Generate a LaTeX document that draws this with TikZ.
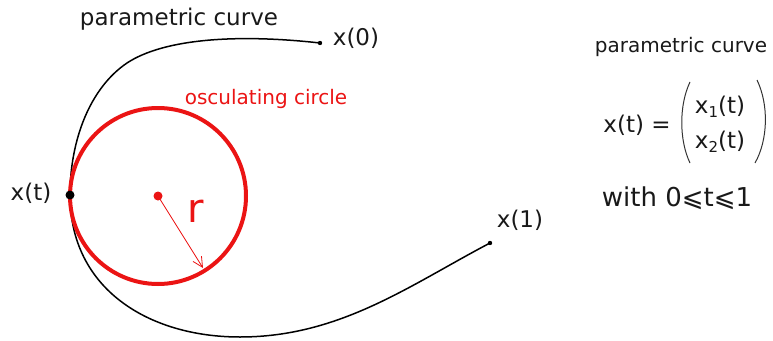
\documentclass[tikz,border=0pt]{standalone}
\usepackage{fontspec}
\setmainfont{DejaVu Sans}
\usetikzlibrary{arrows.meta}
\definecolor{oscred}{RGB}{235,20,20}
\newcommand{\mysub}[1]{\raisebox{-0.3ex}{\fontsize{15}{18}\selectfont #1}}
\begin{document}
\begin{tikzpicture}[x=1pt,y=-1pt,
  lbl/.style={inner sep=0pt, text=black!90, font=\fontsize{23}{28}\selectfont},
  smalllbl/.style={inner sep=0pt, text=black!90, font=\fontsize{20}{24}\selectfont},
  redlbl/.style={inner sep=0pt, text=oscred, font=\fontsize{20}{24}\selectfont},
  biglbl/.style={inner sep=0pt, text=black!90, font=\fontsize{26}{30}\selectfont},
  curve/.style={draw=black, line width=1.5pt},
  circ/.style={draw=oscred, line width=4pt},
  radius arrow/.style={draw=oscred, line width=0.8pt, -{Straight Barb[length=10pt,width=10pt]}},
  paren/.style={draw=black!80, line width=1pt}
]
\useasboundingbox (0,0) rectangle (773,340);

% key points
\coordinate (X0) at (320,43);
\coordinate (M) at (127,63);
\coordinate (Xt) at (70,195);
\coordinate (B) at (240,337);
\coordinate (X1) at (490,243);
\coordinate (C) at (158,196);
\coordinate (R) at (203,268);

% parametric curve
\path[curve] (X0) .. controls (240,34) and (165,38) .. (M)
  .. controls (90,88) and (70,140) .. (Xt)
  .. controls (70,290) and (150,337) .. (B)
  .. controls (340,337) and (410,285) .. (X1);

% osculating circle
\draw[circ] (C) circle[radius=88];

% radius arrow
\path[radius arrow] (C) -- (R);

% dots
\fill[black] (Xt) circle[radius=4.5];
\fill[black] (X0) circle[radius=2.2];
\fill[black] (X1) circle[radius=2.2];
\fill[oscred] (C) circle[radius=4.5];

% labels
\node[lbl] (tcurve) at (179,19) {parametric curve};
\node[lbl] (tx0) at (356,38) {x(0)};
\node[lbl] (txt) at (31,193) {x(t)};
\node[lbl] (tx1) at (520,220) {x(1)};
\node[redlbl] (tosc) at (266,99) {osculating circle};
\node[inner sep=0pt, text=oscred, font=\fontsize{40}{44}\selectfont] (tr) at (196,211) {r};

% right side
\node[smalllbl] (tpc) at (681,47) {parametric curve};
\node[lbl] (teq) at (637,125) {x(t) =};
\node[lbl] (tx1t) at (720,107) {x\mysub{1}(t)};
\node[lbl] (tx2t) at (720,142) {x\mysub{2}(t)};
\draw[paren] (690,82) .. controls (679,105) and (679,140) .. (690,163);
\draw[paren] (757,80) .. controls (769,105) and (768,140) .. (755,163);
\node[biglbl] (twith) at (677,198) {with 0⩽t⩽1};
\end{tikzpicture}
\end{document}
